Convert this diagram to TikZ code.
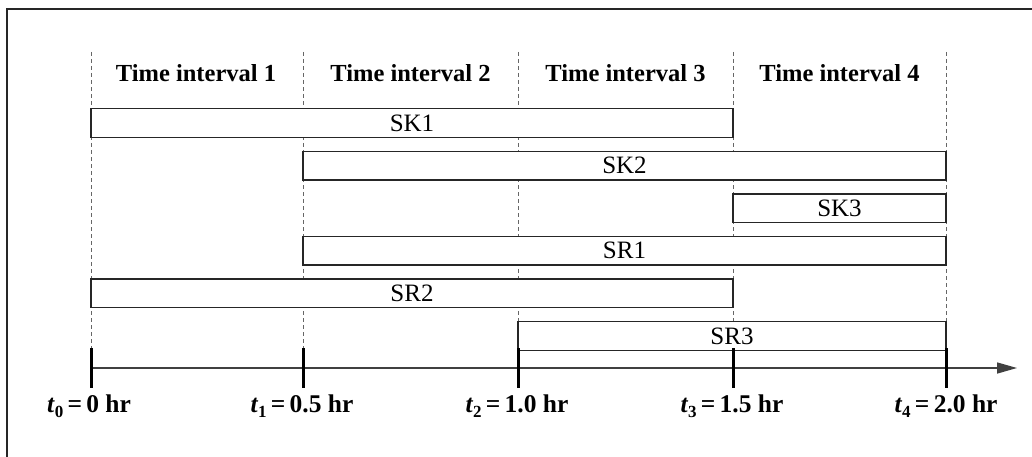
\documentclass[tikz,border=0pt]{standalone}
\usepackage{fontspec}
\setmainfont{Liberation Serif}
\usetikzlibrary{arrows.meta}
\tikzset{
  guide/.style={draw=black!60, line width=0.9pt, dash pattern=on 4pt off 3pt},
  bar/.style={draw=black!85, line width=1.3pt, rectangle, minimum height=28.5pt,
              inner sep=0pt, font=\fontsize{25}{27}\selectfont},
  header/.style={font=\bfseries\fontsize{24.5}{27}\selectfont, inner sep=0pt},
  ticklabel/.style={font=\bfseries\fontsize{25.5}{28}\selectfont, inner sep=0pt},
  tickmark/.style={line width=3pt, black},
  axis/.style={line width=1.5pt, black!75, -{Triangle[length=20pt, width=11pt]}},
  frame/.style={line width=2pt, black!85}
}
\newcommand{\tlab}[2]{\textit{t}\raisebox{-5pt}{\fontsize{17}{17}\selectfont #1}\,=\,#2}
\begin{document}
\begin{tikzpicture}[x=1pt,y=-1pt]
  \useasboundingbox (0,0) rectangle (1032,457);
  % outer frame (top and left edges)
  \draw[frame] (1032,9) -- (7,9) -- (7,457);

  % time instants on the axis
  \foreach \n/\x in {0/91,1/303,2/518,3/733,4/946} {
    \coordinate (g\n) at (\x,52);
    \coordinate (t\n) at (\x,368);
    \coordinate (a\n) at (\x,348);
    \coordinate (b\n) at (\x,388);
    \draw[guide] (g\n) -- (a\n);
  }
  \coordinate (tend) at (1017,368);

  % interval headings
  \node[header] (h1) at (196,73) {Time interval 1};
  \node[header] (h2) at (410.5,73) {Time interval 2};
  \node[header] (h3) at (625.5,73) {Time interval 3};
  \node[header] (h4) at (839.5,73) {Time interval 4};

  % activity bars
  \node[bar, fill=white, minimum width=642pt] (sk1) at (412,123) {SK1};
  \node[bar, fill=white, minimum width=643pt] (sk2) at (624.5,165.7) {SK2};
  \node[bar, fill=white, minimum width=213pt] (sk3) at (839.5,208.3) {SK3};
  \node[bar, fill=white, minimum width=643pt] (sr1) at (624.5,250.7) {SR1};
  \node[bar, fill=white, minimum width=642pt] (sr2) at (412,293.3) {SR2};
  \node[bar, fill=white, minimum width=428pt] (sr3) at (732,336) {SR3};

  % time axis
  \draw[axis] (t0) -- (tend);
  \foreach \n in {0,...,4} { \draw[tickmark] (a\n) -- (b\n); }

  % axis labels
  \node[ticklabel] (l0) at (89,406) {\tlab{0}{0 hr}};
  \node[ticklabel] (l1) at (302,406) {\tlab{1}{0.5 hr}};
  \node[ticklabel] (l2) at (517,406) {\tlab{2}{1.0 hr}};
  \node[ticklabel] (l3) at (732,406) {\tlab{3}{1.5 hr}};
  \node[ticklabel] (l4) at (946,406) {\tlab{4}{2.0 hr}};
\end{tikzpicture}
\end{document}
